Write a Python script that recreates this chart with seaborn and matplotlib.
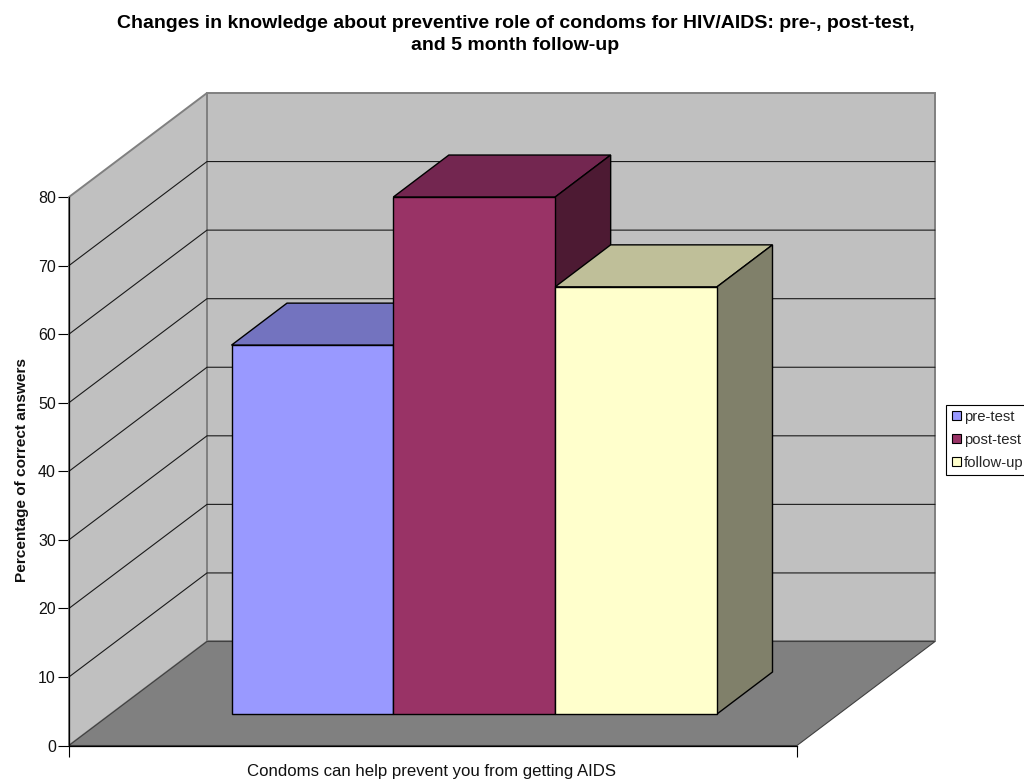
import matplotlib
matplotlib.use("Agg")
import matplotlib.pyplot as plt
import pandas as pd
import seaborn as sns
from matplotlib.patches import Polygon
from matplotlib.transforms import Affine2D

question = ["Condoms can help prevent you from getting AIDS"]
series = ["pre-test", "post-test", "follow-up"]
values = [53.8, 75.4, 62.3]
y_ticks = [0, 10, 20, 30, 40, 50, 60, 70, 80]
colors = ["#9999FF", "#993366", "#FFFFCC"]
top_colors = ["#7373BF", "#732650", "#BFBF99"]
side_colors = ["#4D1A33", "#4D1A33", "#80806A"]

W, H = 1024, 779
# chart depth, in pixels
WALL_DX, WALL_DY = 138, 104
BAR_DX, BAR_DY = 55.5, 42

sns.set_theme(style="white")
plt.rcParams["font.family"] = ["Liberation Sans", "DejaVu Sans"]

fig = plt.figure(figsize=(W / 100, H / 100), dpi=100)
# pixel coordinates, origin top left
px = Affine2D().scale(1 / W, -1 / H).translate(0, 1) + fig.transFigure


def add_axes_px(left, top, right, bottom):
    return fig.add_axes([left / W, 1 - bottom / H, (right - left) / W, (bottom - top) / H])


ax = add_axes_px(69, 197, 797, 745.5)
ax.set_xlim(0, 1)
ax.set_ylim(0, 80)
ax.patch.set_visible(False)
for name in ["top", "right"]:
    ax.spines[name].set_visible(False)
for name in ["left", "bottom"]:
    ax.spines[name].set_color("black")
    ax.spines[name].set_linewidth(0.9)
    ax.spines[name].set_zorder(30)
ax.set_yticks(y_ticks)
ax.set_xticks([0, 1])
ax.set_xticklabels(["", ""])
ax.tick_params(axis="both", which="major", direction="out", length=7.6, width=0.8, color="black",
               left=True, bottom=True, labelsize=11.5, labelcolor="#111111", pad=1.9)
ax.set_xlabel(question[0], fontsize=12.1, color="#111111")
ax.xaxis.set_label_coords(0.4985, -0.033)
ax.set_ylabel("Percentage of correct answers", fontsize=11.05, fontweight="bold", color="#111111")
ax.yaxis.set_label_coords(-0.055, 0.503)

# back wall, side wall, floor
x0, x1, y0, y80 = 69, 797, 745.5, 197
back = [(x0 + WALL_DX, y80 - WALL_DY), (x1 + WALL_DX, y80 - WALL_DY), (x1 + WALL_DX, y0 - WALL_DY), (x0 + WALL_DX, y0 - WALL_DY)]
left = [(x0, y80), (x0 + WALL_DX, y80 - WALL_DY), (x0 + WALL_DX, y0 - WALL_DY), (x0, y0)]
floor = [(x0, y0), (x0 + WALL_DX, y0 - WALL_DY), (x1 + WALL_DX, y0 - WALL_DY), (x1, y0)]
for pts, col in [(back, "#C0C0C0"), (left, "#C0C0C0")]:
    ax.add_patch(Polygon(pts, closed=True, transform=px, facecolor=col, edgecolor="#808080",
                         linewidth=1.4, clip_on=False, zorder=1))
ax.add_patch(Polygon(floor, closed=True, transform=px, facecolor="#808080", edgecolor="#404040",
                     linewidth=0.8, clip_on=False, zorder=2))

# gridlines run up the side wall and along the back
for t in y_ticks[1:-1]:
    y = y0 + (y80 - y0) * t / 80
    ax.plot([x0, x0 + WALL_DX, x1 + WALL_DX], [y, y - WALL_DY, y - WALL_DY], transform=px,
            color="#1a1a1a", linewidth=0.8, clip_on=False, zorder=1.5)

# bars sit on their own axes, shifted into the depth of the floor
ax_bar = add_axes_px(231.5, 714 - 548.5, 717, 714)
df = pd.DataFrame({"question": question * 3, "series": series, "pct": values})
sns.barplot(data=df, x="question", y="pct", hue="series", hue_order=series, palette=colors,
            saturation=1, width=1, gap=0, edgecolor="black", linewidth=1.0, ax=ax_bar)
ax_bar.set_xlim(-0.5, 0.5)
ax_bar.set_ylim(0, 80)
ax_bar.axis("off")
handles, labels = ax_bar.get_legend_handles_labels()
ax_bar.get_legend().remove()

bars = [p for p in ax_bar.patches if p.get_height() > 0]
to_px = ax_bar.transData + px.inverted()
for i, bar in enumerate(bars):
    bx0, by1 = to_px.transform((bar.get_x(), bar.get_height()))
    bx1, by0 = to_px.transform((bar.get_x() + bar.get_width(), 0))
    top = [(bx0, by1), (bx0 + BAR_DX, by1 - BAR_DY), (bx1 + BAR_DX, by1 - BAR_DY), (bx1, by1)]
    side = [(bx1, by1), (bx1 + BAR_DX, by1 - BAR_DY), (bx1 + BAR_DX, by0 - BAR_DY), (bx1, by0)]
    z = 3 + i * 3
    ax_bar.add_patch(Polygon(top, closed=True, transform=px, facecolor=top_colors[i], edgecolor="black",
                             linewidth=1.0, clip_on=False, zorder=z))
    ax_bar.add_patch(Polygon(side, closed=True, transform=px, facecolor=side_colors[i], edgecolor="black",
                             linewidth=1.0, clip_on=False, zorder=z + 1))
    bar.set_zorder(z + 2)
    bar.set_clip_on(False)

leg = fig.legend(handles, labels, loc="upper left", bbox_to_anchor=(946.3 / W, 1 - 404.5 / H),
                 bbox_transform=fig.transFigure, fontsize=10.7, frameon=True, fancybox=False,
                 edgecolor="black", facecolor="white", framealpha=1, borderaxespad=0,
                 borderpad=0.36, handlelength=0.62, handleheight=0.62, handletextpad=0.22, labelspacing=0.6)
leg.get_frame().set_linewidth(0.8)
for h in leg.legend_handles:
    h.set_edgecolor("black")
    h.set_linewidth(0.8)

fig.text(515.5 / W, 1 - 34.5 / H,
         "Changes in knowledge about preventive role of condoms for HIV/AIDS: pre-, post-test,\nand 5 month follow-up",
         ha="center", va="center", fontsize=14, fontweight="bold", color="black", linespacing=1.46)

fig.savefig("out.png", dpi=100, facecolor="white")
